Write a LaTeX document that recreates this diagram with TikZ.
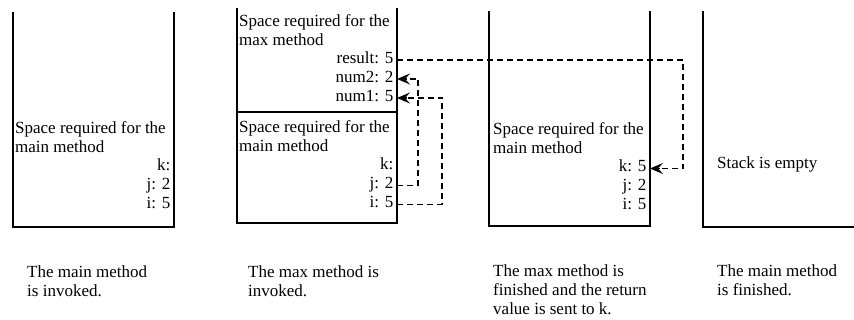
\documentclass[tikz,border=0pt]{standalone}
\usepackage{fontspec}
\setmainfont{Liberation Serif}
\usetikzlibrary{arrows.meta}
\begin{document}
\begin{tikzpicture}[x=1pt,y=-1pt,
  stackline/.style={line width=1.3pt},
  txt/.style={inner sep=0pt, anchor=north west, align=left, font=\fontsize{17}{19}\selectfont},
  val/.style={inner xsep=3.5pt, inner ysep=0pt, text height=7pt, text depth=0pt, anchor=base east, font=\fontsize{17}{19}\selectfont},
  link/.style={dash pattern=on 6pt off 4pt, line width=1.2pt},
  tipline/.style={solid, line width=1.2pt, -{Stealth[length=13pt,width=11pt,inset=5pt]}}
]
\useasboundingbox (0,0) rectangle (854,320);

% stack 1
\draw[stackline] (13,12) -- (13,227) -- (174,227) -- (174,12);
\node[txt] (s1main) at (15,121.4) {Space required for the\\main method};
\node[val] (s1k) at (174,171) {k:};
\node[val] (s1j) at (174,190) {j: 2};
\node[val] (s1i) at (174,209) {i: 5};

% stack 2
\draw[stackline] (237,8) -- (237,223) -- (397,223) -- (397,8);
\draw[stackline] (237,112) -- (397,112);
\node[txt] (s2max) at (239,13.9) {Space required for the\\max method};
\node[val] (result) at (397,63.5) {result: 5};
\node[val] (num2) at (397,82.5) {num2: 2};
\node[val] (num1) at (397,101.5) {num1: 5};
\node[txt] (s2main) at (239,120.4) {Space required for the\\main method};
\node[val] (s2k) at (397,170) {k:};
\node[val] (j2) at (397,189) {j: 2};
\node[val] (i2) at (397,208) {i: 5};

% stack 3
\draw[stackline] (489,11) -- (489,226) -- (650,226) -- (650,11);
\node[txt] (s3main) at (493,122.4) {Space required for the\\main method};
\node[val] (k5) at (650,172) {k: 5};
\node[val] (s3j) at (650,191) {j: 2};
\node[val] (s3i) at (650,210) {i: 5};

% stack 4
\draw[stackline] (703,11) -- (703,227) -- (854,227);
\node[txt] (empty) at (717,156.4) {Stack is empty};

% connectors
\coordinate (jc) at (418,0);
\coordinate (ic) at (442,0);
\coordinate (rc) at (683,0);
\draw[link] (j2.east) -- (j2.east -| jc) -- (num2.east -| jc) -- ([xshift=10pt]num2.east);
\draw[tipline] ([xshift=10pt]num2.east) -- (num2.east);
\draw[link] (i2.east) -- (i2.east -| ic) -- (num1.east -| ic) -- ([xshift=10pt]num1.east);
\draw[tipline] ([xshift=10pt]num1.east) -- (num1.east);
\draw[link] (result.east) -- (result.east -| rc) -- (k5.east -| rc) -- ([xshift=10pt]k5.east);
\draw[tipline] ([xshift=10pt]k5.east) -- (k5.east);

% captions
\node[txt] (c1) at (27,265.4) {The main method\\is invoked.};
\node[txt] (c2) at (248,265.4) {The max method is\\invoked.};
\node[txt] (c3) at (493,264.4) {The max method is\\finished and the return\\value is sent to k.};
\node[txt] (c4) at (717,264.4) {The main method\\is finished.};
\end{tikzpicture}
\end{document}
